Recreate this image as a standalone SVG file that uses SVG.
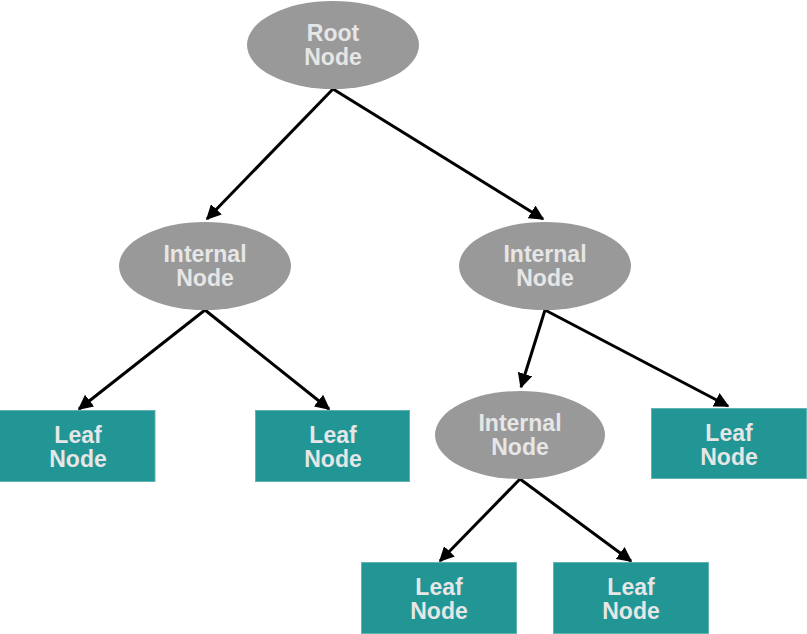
<svg xmlns="http://www.w3.org/2000/svg" width="807" height="634" viewBox="0 0 807 634">
<style>
.ell{fill:#999999;}
.leaf{fill:#219694;stroke:#5fb3b1;stroke-width:1;}
.t{font-family:"Liberation Sans",Arial,sans-serif;font-weight:bold;font-size:23px;fill:#e6e6e6;text-anchor:middle;}
.e{stroke:#000;stroke-width:3;fill:none;marker-end:url(#ah);}
</style>
<defs>
<marker id="ah" viewBox="0 0 10 10" refX="9" refY="5" markerWidth="5" markerHeight="5" orient="auto" markerUnits="strokeWidth">
<path d="M0,0 L10,5 L0,10 Z" fill="#000"/>
</marker>
</defs>
<g id="connectors">
<line class="e" x1="333" y1="89" x2="207" y2="219"/>
<line class="e" x1="333" y1="89" x2="543" y2="219"/>
<line class="e" x1="205" y1="310" x2="79" y2="409"/>
<line class="e" x1="205" y1="310" x2="329" y2="409"/>
<line class="e" x1="545" y1="310" x2="521" y2="387"/>
<line class="e" x1="545" y1="310" x2="728" y2="406"/>
<line class="e" x1="520" y1="479" x2="440" y2="561"/>
<line class="e" x1="520" y1="479" x2="631" y2="561"/>
</g>
<g id="root">
<ellipse class="ell" cx="333" cy="45" rx="86" ry="44"/>
<text class="t" x="333" y="41">Root</text>
<text class="t" x="333" y="65">Node</text>
</g>
<g id="internal1">
<ellipse class="ell" cx="205" cy="266" rx="86" ry="44"/>
<text class="t" x="205" y="262">Internal</text>
<text class="t" x="205" y="286">Node</text>
</g>
<g id="internal2">
<ellipse class="ell" cx="545" cy="266" rx="86" ry="44"/>
<text class="t" x="545" y="262">Internal</text>
<text class="t" x="545" y="286">Node</text>
</g>
<g id="internal3">
<ellipse class="ell" cx="520" cy="435" rx="85" ry="44"/>
<text class="t" x="520" y="431">Internal</text>
<text class="t" x="520" y="455">Node</text>
</g>
<g id="leaf1">
<rect class="leaf" x="-1" y="410.5" width="156" height="71"/>
<text class="t" x="78" y="443">Leaf</text>
<text class="t" x="78" y="467">Node</text>
</g>
<g id="leaf2">
<rect class="leaf" x="255.5" y="410.5" width="154" height="71"/>
<text class="t" x="333" y="443">Leaf</text>
<text class="t" x="333" y="467">Node</text>
</g>
<g id="leaf3">
<rect class="leaf" x="651.5" y="408.5" width="155" height="70"/>
<text class="t" x="729" y="441">Leaf</text>
<text class="t" x="729" y="465">Node</text>
</g>
<g id="leaf4">
<rect class="leaf" x="361.5" y="562.5" width="155" height="71"/>
<text class="t" x="439" y="595">Leaf</text>
<text class="t" x="439" y="619">Node</text>
</g>
<g id="leaf5">
<rect class="leaf" x="553.5" y="562.5" width="155" height="71"/>
<text class="t" x="631" y="595">Leaf</text>
<text class="t" x="631" y="619">Node</text>
</g>
</svg>
